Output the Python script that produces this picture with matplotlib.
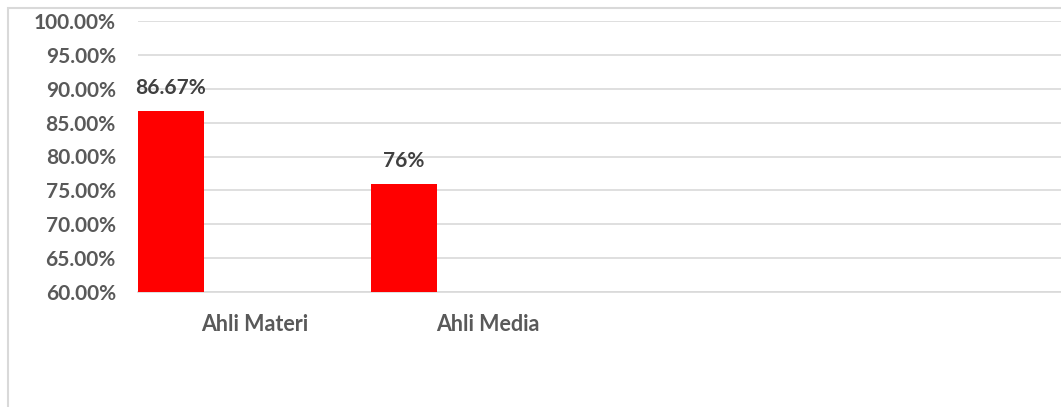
import matplotlib
matplotlib.use("Agg")
import matplotlib.pyplot as plt
from matplotlib.patches import Rectangle
from matplotlib.ticker import FuncFormatter, MultipleLocator

categories = ["Ahli Materi", "Ahli Media", "", ""]
values = [86.67, 76.0, None, None]
value_labels = ["86.67%", "76%"]

W, H = 1061, 407
fig = plt.figure(figsize=(W / 100, H / 100), dpi=100)
fig.patch.set_facecolor("white")

left, right = 138 / W, 1.0
bottom, top = 1 - 292 / H, 1 - 21 / H
ax = fig.add_axes([left, bottom, right - left, top - bottom])

txt = "#595959"
grid = "#d9d9d9"
font = "Lato"

xs = list(range(len(categories)))
bw = 66 / 233
for i, v in enumerate(values):
    if v is None:
        continue
    ax.bar(i - 0.5, v - 60, width=bw, bottom=60, align="edge", color="#ff0000", zorder=3)
    ax.text(i - 0.5 + bw / 2, v + 1.9, value_labels[i], ha="center", va="bottom",
            fontsize=15, fontweight="bold", color="#404040", family=font)

ax.set_ylim(60, 100)
ax.set_xlim(-0.5, -0.5 + (W - 138) / 233)
ax.yaxis.set_major_locator(MultipleLocator(5))
ax.yaxis.set_major_formatter(FuncFormatter(lambda v, p: f"{v:.2f}%"))
ax.set_xticks(xs)
ax.set_xticklabels(categories)
ax.grid(axis="y", color=grid, linewidth=1.2, zorder=0)
ax.set_axisbelow(True)
for s in ["top", "right", "left"]:
    ax.spines[s].set_visible(False)
ax.spines["bottom"].set_color(grid)
ax.spines["bottom"].set_linewidth(1.2)
ax.tick_params(axis="both", length=0)
ax.tick_params(axis="y", pad=16, labelsize=15, labelcolor=txt)
ax.tick_params(axis="x", pad=16, labelsize=15.5, labelcolor=txt)
for lab in ax.get_xticklabels() + ax.get_yticklabels():
    lab.set_fontweight("bold")
    lab.set_family(font)

# chart-area border (cropped at right and bottom)
fig.patches.append(Rectangle((7.5 / W, -0.5), 2.0, 1.5 - 7.5 / H, transform=fig.transFigure,
                             fill=False, edgecolor=grid, linewidth=1.5))

fig.savefig("out.png", dpi=100)
